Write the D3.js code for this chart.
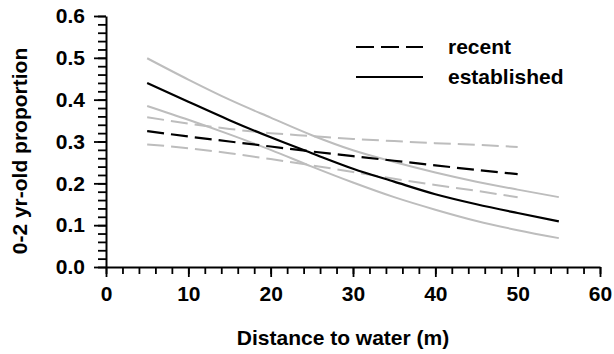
<!DOCTYPE html>
<html>
<head>
<meta charset="utf-8">
<script src="https://cdn.jsdelivr.net/npm/d3@7"></script>
<style>
  body { margin: 0; background: #fff; }
  svg { display: block; font-family: "Liberation Sans", Arial, sans-serif; }
</style>
</head>
<body>
<div id="container"></div>
<script>
// Distance to water (m)
const establishedX = [5, 10, 15, 20, 25, 30, 35, 40, 45, 50, 55];
const establishedFit = [0.440, 0.395, 0.351, 0.310, 0.272, 0.235, 0.204, 0.174, 0.150, 0.129, 0.109];
const establishedUpper = [0.499, 0.448, 0.400, 0.357, 0.315, 0.279, 0.251, 0.226, 0.204, 0.185, 0.167];
const establishedLower = [0.385, 0.352, 0.317, 0.280, 0.240, 0.202, 0.167, 0.137, 0.110, 0.088, 0.069];

const recentX = [5, 10, 15, 20, 25, 30, 35, 40, 45, 50];
const recentFit = [0.325, 0.312, 0.300, 0.288, 0.276, 0.265, 0.254, 0.243, 0.232, 0.222];
const recentUpper = [0.358, 0.343, 0.330, 0.320, 0.313, 0.306, 0.301, 0.296, 0.292, 0.287];
const recentLower = [0.293, 0.284, 0.272, 0.258, 0.243, 0.227, 0.211, 0.196, 0.182, 0.167];

const xTicks = [0, 10, 20, 30, 40, 50, 60];
const yTicks = [0.0, 0.1, 0.2, 0.3, 0.4, 0.5, 0.6];

const width = 614;
const height = 354;
const marginLeft = 106;
const marginRight = 14;
const marginTop = 16;
const marginBottom = 87;
const fontSize = 21;

const svg = d3.select("#container").append("svg")
  .attr("width", width)
  .attr("height", height);

const x = d3.scaleLinear().domain([0, 60]).range([marginLeft, width - marginRight]);
const y = d3.scaleLinear().domain([0, 0.6]).range([height - marginBottom, marginTop]);

const grey = "#bdbdbd";
const dash = "17,7";

// minor ticks
svg.append("g")
  .attr("transform", `translate(0,${y(0)})`)
  .call(d3.axisBottom(x).tickValues(d3.range(0, 61, 2)).tickSize(7).tickFormat(""))
  .call(g => g.select(".domain").remove())
  .call(g => g.selectAll("line").attr("stroke-width", 1.8));

svg.append("g")
  .attr("transform", `translate(${x(0)},0)`)
  .call(d3.axisLeft(y).tickValues(d3.range(0, 31).map(i => i * 0.02)).tickSize(8).tickFormat(""))
  .call(g => g.select(".domain").remove())
  .call(g => g.selectAll("line").attr("stroke-width", 1.8));

// major ticks + labels
svg.append("g")
  .attr("transform", `translate(0,${y(0)})`)
  .call(d3.axisBottom(x).tickValues(xTicks).tickSize(10).tickSizeOuter(0).tickPadding(9))
  .call(g => g.select(".domain").attr("stroke-width", 2))
  .call(g => g.selectAll("line").attr("stroke-width", 1.8))
  .call(g => g.selectAll("text")
    .attr("font-family", "Liberation Sans, Arial, sans-serif")
    .attr("font-size", fontSize).attr("font-weight", "bold").attr("fill", "#000"));

svg.append("g")
  .attr("transform", `translate(${x(0)},0)`)
  .call(d3.axisLeft(y).tickValues(yTicks).tickSize(12).tickSizeOuter(0).tickPadding(9)
    .tickFormat(d3.format(".1f")))
  .call(g => g.select(".domain").attr("stroke-width", 2))
  .call(g => g.selectAll("line").attr("stroke-width", 1.8))
  .call(g => g.selectAll("text")
    .attr("font-family", "Liberation Sans, Arial, sans-serif")
    .attr("font-size", fontSize).attr("font-weight", "bold").attr("fill", "#000"));

// axis titles
svg.append("text")
  .attr("x", 343)
  .attr("y", 345)
  .attr("text-anchor", "middle")
  .attr("font-size", fontSize)
  .attr("font-weight", "bold")
  .text("Distance to water (m)");

svg.append("text")
  .attr("transform", `translate(27,151) rotate(-90)`)
  .attr("text-anchor", "middle")
  .attr("font-size", fontSize)
  .attr("font-weight", "bold")
  .text("0-2 yr-old proportion");

// curves
const line = d3.line()
  .x(d => x(d[0]))
  .y(d => y(d[1]))
  .curve(d3.curveMonotoneX);

function drawCurve(xs, ys, color, dashed, w) {
  svg.append("path")
    .datum(xs.map((v, i) => [v, ys[i]]))
    .attr("fill", "none")
    .attr("stroke", color)
    .attr("stroke-width", w)
    .attr("stroke-dasharray", dashed ? dash : null)
    .attr("d", line);
}

drawCurve(recentX, recentUpper, grey, true, 2);
drawCurve(recentX, recentLower, grey, true, 2);
drawCurve(establishedX, establishedUpper, grey, false, 2);
drawCurve(establishedX, establishedLower, grey, false, 2);
drawCurve(recentX, recentFit, "#000", true, 2.2);
drawCurve(establishedX, establishedFit, "#000", false, 2.2);

// legend
const legend = svg.append("g");
[["recent", true, 47], ["established", false, 77]].forEach(([label, dashed, ly]) => {
  legend.append("line")
    .attr("x1", 356).attr("x2", 423)
    .attr("y1", ly).attr("y2", ly)
    .attr("stroke", "#000")
    .attr("stroke-width", 2.2)
    .attr("stroke-dasharray", dashed ? "18,7" : null);
  legend.append("text")
    .attr("x", 448)
    .attr("y", ly)
    .attr("dy", "0.35em")
    .attr("font-size", fontSize)
    .attr("font-weight", "bold")
    .text(label);
});
</script>
</body>
</html>
